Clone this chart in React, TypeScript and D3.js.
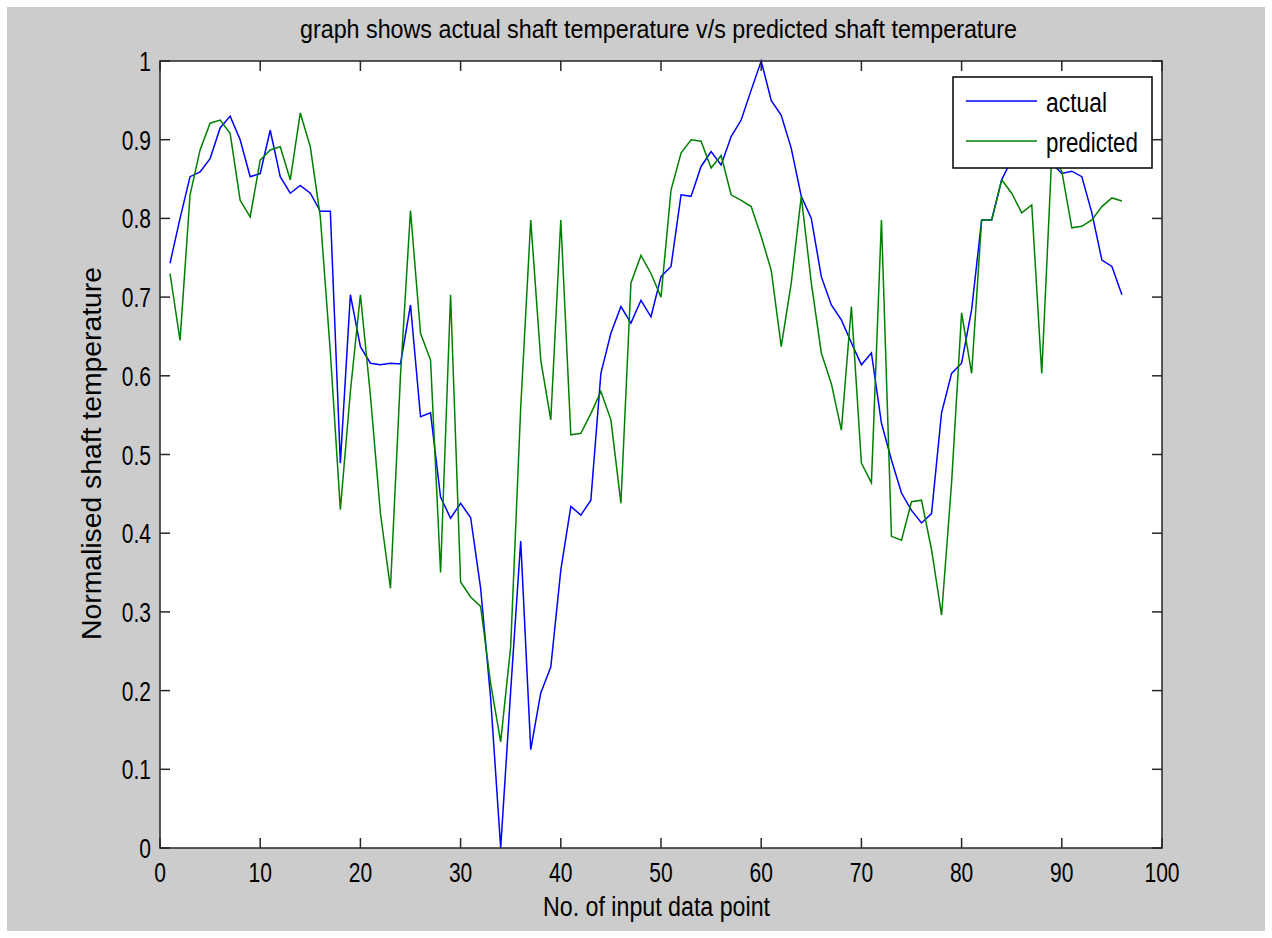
import React from "react";
import * as d3 from "d3";

const TITLE = "graph shows actual shaft temperature v/s predicted shaft temperature";
const X_LABEL = "No. of input data point";
const Y_LABEL = "Normalised shaft temperature";
const SERIES_NAMES = ["actual", "predicted"];
const SERIES_COLORS = ["#0000ff", "#008000"];

const X_TICKS = [0, 10, 20, 30, 40, 50, 60, 70, 80, 90, 100];
const Y_TICKS = [0, 0.1, 0.2, 0.3, 0.4, 0.5, 0.6, 0.7, 0.8, 0.9, 1];
const Y_TICK_LABELS = ["0", "0.1", "0.2", "0.3", "0.4", "0.5", "0.6", "0.7", "0.8", "0.9", "1"];

const actual = [
  0.743, 0.8, 0.853, 0.859, 0.876, 0.915, 0.93, 0.9, 0.853, 0.857,
  0.912, 0.853, 0.832, 0.842, 0.832, 0.809, 0.809, 0.489, 0.703, 0.637,
  0.616, 0.614, 0.616, 0.615, 0.69, 0.548, 0.553, 0.446, 0.419, 0.438,
  0.42, 0.33, 0.19, 0.0, 0.2, 0.39, 0.125, 0.197, 0.23, 0.353,
  0.434, 0.423, 0.442, 0.603, 0.654, 0.688, 0.667, 0.696, 0.675, 0.726,
  0.739, 0.83, 0.828, 0.866, 0.885, 0.868, 0.904, 0.925, 0.963, 1.0,
  0.95, 0.931, 0.889, 0.828, 0.8, 0.726, 0.69, 0.671, 0.642, 0.614,
  0.629, 0.54, 0.493, 0.451, 0.429, 0.413, 0.425, 0.553, 0.603, 0.616,
  0.684, 0.798, 0.798, 0.849, 0.875, 0.895, 0.9, 0.885, 0.87, 0.857,
  0.86, 0.853, 0.807, 0.747, 0.739, 0.703,
];

const predicted = [
  0.73, 0.645, 0.83, 0.887, 0.921, 0.925, 0.908, 0.823, 0.802, 0.874,
  0.887, 0.891, 0.849, 0.934, 0.891, 0.802, 0.63, 0.43, 0.58, 0.703,
  0.575, 0.425, 0.33, 0.6, 0.81, 0.654, 0.62, 0.35, 0.703, 0.338,
  0.319, 0.307, 0.209, 0.135, 0.256, 0.56, 0.798, 0.62, 0.544, 0.798,
  0.525, 0.527, 0.552, 0.58, 0.544, 0.438, 0.718, 0.753, 0.73, 0.7,
  0.836, 0.883, 0.9, 0.898, 0.864, 0.88, 0.83, 0.823, 0.815, 0.777,
  0.734, 0.637, 0.718, 0.828, 0.718, 0.629, 0.59, 0.531, 0.688, 0.489,
  0.464, 0.798, 0.396, 0.391, 0.44, 0.442, 0.379, 0.296, 0.464, 0.68,
  0.603, 0.798, 0.798, 0.849, 0.832, 0.807, 0.817, 0.603, 0.88, 0.86,
  0.788, 0.79, 0.798, 0.815, 0.826, 0.822,
];

const W = 1272;
const H = 938;
const PL = 160, PR = 1162, PT = 61, PB = 848;
const FONT = "'Liberation Sans', Arial, sans-serif";

// Arial-metric advance widths for tick label characters
const CW: Record<string, number> = { "0": 0.556, "1": 0.556, "2": 0.556, "3": 0.556, "4": 0.556, "5": 0.556, "6": 0.556, "7": 0.556, "8": 0.556, "9": 0.556, ".": 0.278 };
const tickW = (s: string) => s.split("").reduce((a, c) => a + (CW[c] || 0.556), 0) * 21;

export default function App() {
  const x = d3.scaleLinear().domain([0, 100]).range([PL, PR]);
  const y = d3.scaleLinear().domain([0, 1]).range([PB, PT]);
  const line = d3
    .line<number>()
    .x((_, i) => x(i + 1))
    .y((d) => y(d));
  const data = [actual, predicted];
  const axisColor = "#262626";
  const TL = 10;

  return (
    <svg width={W} height={H} style={{ position: "absolute", left: 0, top: 0, display: "block" }}>
      <rect x={0} y={0} width={W} height={H} fill="#ffffff" />
      <rect x={7} y={7} width={1258} height={924} fill="#cccccc" />
      <rect x={PL} y={PT} width={PR - PL} height={PB - PT} fill="#ffffff" />

      {data.map((d, k) => (
        <path key={k} d={line(d) || ""} fill="none" stroke={SERIES_COLORS[k]} strokeWidth={1.5} strokeLinejoin="miter" />
      ))}

      {/* axes box */}
      <rect x={PL} y={PT} width={PR - PL} height={PB - PT} fill="none" stroke={axisColor} strokeWidth={1.5} />
      {X_TICKS.map((t) => (
        <g key={"xt" + t}>
          <line x1={x(t)} x2={x(t)} y1={PB} y2={PB - TL} stroke={axisColor} strokeWidth={1.5} />
          <line x1={x(t)} x2={x(t)} y1={PT} y2={PT + TL} stroke={axisColor} strokeWidth={1.5} />
          <text
            x={x(t)}
            y={882}
            textAnchor="middle"
            fontFamily={FONT}
            fontSize={28}
            fill="#000"
            textLength={tickW(String(t))}
            lengthAdjust="spacingAndGlyphs"
          >
            {String(t)}
          </text>
        </g>
      ))}
      {Y_TICKS.map((t, i) => (
        <g key={"yt" + i}>
          <line x1={PL} x2={PL + TL} y1={y(t)} y2={y(t)} stroke={axisColor} strokeWidth={1.5} />
          <line x1={PR} x2={PR - TL} y1={y(t)} y2={y(t)} stroke={axisColor} strokeWidth={1.5} />
          <text
            x={151}
            y={y(t) + 10}
            textAnchor="end"
            fontFamily={FONT}
            fontSize={28}
            fill="#000"
            textLength={tickW(Y_TICK_LABELS[i])}
            lengthAdjust="spacingAndGlyphs"
          >
            {Y_TICK_LABELS[i]}
          </text>
        </g>
      ))}

      {/* title and labels */}
      <text x={658.5} y={38} textAnchor="middle" fontFamily={FONT} fontSize={26} fill="#000" textLength={717} lengthAdjust="spacingAndGlyphs">
        {TITLE}
      </text>
      <text x={656.5} y={916} textAnchor="middle" fontFamily={FONT} fontSize={27} fill="#000" textLength={227} lengthAdjust="spacingAndGlyphs">
        {X_LABEL}
      </text>
      <text
        transform={`translate(101, ${(267 + 640) / 2}) rotate(-90)`}
        textAnchor="middle"
        fontFamily={FONT}
        fontSize={27}
        fill="#000"
        textLength={373}
        lengthAdjust="spacingAndGlyphs"
      >
        {Y_LABEL}
      </text>

      {/* legend */}
      <rect x={953} y={77} width={199} height={91} fill="#ffffff" stroke="#000" strokeWidth={1.5} />
      {SERIES_NAMES.map((n, k) => (
        <g key={n}>
          <line x1={966} x2={1037} y1={101 + k * 40} y2={101 + k * 40} stroke={SERIES_COLORS[k]} strokeWidth={1.5} />
          <text
            x={1046}
            y={112 + k * 40}
            fontFamily={FONT}
            fontSize={27}
            fill="#000"
            textLength={k === 0 ? 61 : 92}
            lengthAdjust="spacingAndGlyphs"
          >
            {n}
          </text>
        </g>
      ))}
    </svg>
  );
}
